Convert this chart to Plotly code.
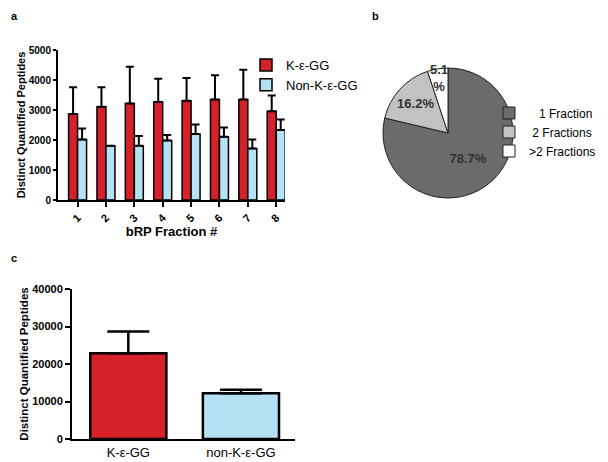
import plotly.graph_objects as go

# ---- data ----
fractions = ["1", "2", "3", "4", "5", "6", "7", "8"]
kgg_mean = [2870, 3110, 3220, 3270, 3310, 3350, 3350, 2960]
kgg_sd = [886, 646, 1220, 770, 760, 810, 990, 520]
nonkgg_mean = [2020, 1810, 1810, 1980, 2200, 2110, 1720, 2330]
nonkgg_sd = [360, 0, 320, 190, 320, 310, 300, 350]

pie_labels = ["\u00a0\u00a0\u00a01 Fraction", "\u00a02 Fractions", ">2 Fractions"]
pie_values = [78.7, 16.2, 5.1]
pie_text = ["78.7%", "16.2%", "5.1<br>%"]

total_groups = ["K-\u03b5-GG", "non-K-\u03b5-GG"]
total_mean = [22840, 12180]
total_sd = [5860, 970]

RED = "#d6202a"
BLUE = "#b4e1f4"
FONT = "Arial, Liberation Sans, sans-serif"

# the page has an 8px body margin: lay out in screen pixels, shift by it
OFF = 8
W, H = 608 - OFF, 462 - OFF
def fx(sx):
    return (sx - OFF) / W
def fy(sy):
    return 1 - (sy - OFF) / H
def px_x(a, b):
    return [fx(a), fx(b)]
def px_y(top, bottom):
    return [fy(bottom), fy(top)]

fig = go.Figure()

# panel a
fig.add_trace(go.Bar(
    x=fractions, y=kgg_mean, name="K-\u03b5-GG",
    marker=dict(color=RED, line=dict(color="black", width=1.5)),
    error_y=dict(type="data", array=kgg_sd, arrayminus=[0]*8, symmetric=False,
                 color="black", thickness=2, width=4),
    xaxis="x", yaxis="y", legend="legend",
))
fig.add_trace(go.Bar(
    x=fractions, y=nonkgg_mean, name="Non-K-\u03b5-GG",
    marker=dict(color=BLUE, line=dict(color="black", width=1.5)),
    error_y=dict(type="data", array=nonkgg_sd, arrayminus=[0]*8, symmetric=False,
                 color="black", thickness=2, width=4),
    xaxis="x", yaxis="y", legend="legend",
))

# panel b
fig.add_trace(go.Pie(
    labels=pie_labels, values=pie_values, text=pie_text,
    textinfo="text", sort=False, direction="clockwise", rotation=0,
    marker=dict(colors=["#6b6b6b", "#c2c2c2", "#ffffff"],
                line=dict(color="#222222", width=1)),
    textfont=dict(family=FONT, size=13, color="#333333", weight="bold"),
    insidetextorientation="horizontal", textposition="inside",
    domain=dict(x=px_x(383, 513), y=px_y(68, 198)),
    legend="legend2", hoverinfo="label+percent",
))

# panel c
fig.add_trace(go.Bar(
    x=total_groups, y=total_mean, width=0.676,
    marker=dict(color=[RED, BLUE], line=dict(color="black", width=2.5)),
    error_y=dict(type="data", array=total_sd, arrayminus=[0, 0], symmetric=False,
                 color="black", thickness=2.5, width=21),
    xaxis="x2", yaxis="y2", showlegend=False,
))

axis_common = dict(showline=True, linecolor="black", linewidth=2, ticks="outside",
                   tickwidth=2, tickcolor="black", showgrid=False,
                   zeroline=False, mirror=False, automargin=False)

fig.update_layout(
    width=W, height=H,
    margin=dict(l=0, r=0, t=0, b=0, autoexpand=False),
    paper_bgcolor="white", plot_bgcolor="white",
    font=dict(family=FONT, color="black"),
    barmode="group", bargap=0.366, bargroupgap=0.0,
    uniformtext=dict(minsize=13, mode="show"),
    xaxis=dict(**axis_common, ticklen=5, domain=px_x(58, 285), range=[-0.69, 7.31], anchor="y",
               tickangle=-45, tickfont=dict(size=11, weight="bold"),
               title=dict(text="<b>bRP Fraction #</b>", font=dict(size=13), standoff=2)),
    yaxis=dict(**axis_common, ticklen=3, domain=px_y(50, 200), range=[0, 5000], dtick=1000,
               anchor="x", tickformat="d", tickfont=dict(size=10, weight="bold"),
               title=dict(text="<b>Distinct Quantified Peptides</b>", font=dict(size=11), standoff=1)),
    xaxis2=dict(showline=True, linecolor="black", linewidth=2, ticks="", showgrid=False,
                zeroline=False, automargin=False,
                domain=px_x(72, 295), range=[-0.5, 1.48], anchor="y2",
                tickfont=dict(size=13)),
    yaxis2=dict(**axis_common, ticklen=5, domain=px_y(289, 439), range=[0, 40000], dtick=10000,
                anchor="x2", tickformat="d", tickfont=dict(size=11, weight="bold"),
                title=dict(text="<b>Distinct Quantified Peptides</b>", font=dict(size=11.5), standoff=1)),
    legend=dict(x=fx(246), y=fy(50), xanchor="left", yanchor="top",
                font=dict(size=13), bgcolor="rgba(0,0,0,0)", traceorder="normal"),
    legend2=dict(x=fx(489), y=fy(132), xanchor="left", yanchor="middle",
                 font=dict(size=12), bgcolor="rgba(0,0,0,0)"),
    annotations=[
        dict(text="<b>a</b>", x=fx(9), y=1, xref="paper", yref="paper",
             showarrow=False, xanchor="left", yanchor="top", font=dict(size=11)),
        dict(text="<b>b</b>", x=fx(370), y=1, xref="paper", yref="paper",
             showarrow=False, xanchor="left", yanchor="top", font=dict(size=11)),
        dict(text="<b>c</b>", x=fx(9), y=fy(258), xref="paper", yref="paper",
             showarrow=False, xanchor="left", yanchor="middle", font=dict(size=11)),
    ],
)

fig.write_html("out.html")
